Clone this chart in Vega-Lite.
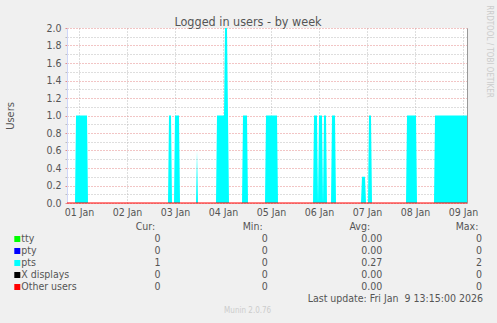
{
  "$schema": "https://vega.github.io/schema/vega-lite/v6.json",
  "autosize": "none",
  "padding": {"left": 67, "top": 28, "right": 30, "bottom": 10},
  "params": [{"name": "height", "value": 285}],
  "background": "#f0f0f0",
  "spacing": 0,
  "bounds": "flush",
  "config": {
    "font": "DejaVu Sans Condensed, DejaVu Sans",
    "view": {"stroke": null},
    "text": {"font": "DejaVu Sans Condensed, DejaVu Sans"}
  },
  "title": {"text": "Logged in users - by week", "fontSize": 12.5, "fontWeight": "normal", "color": "#555555", "anchor": "middle", "frame": "group", "baseline": "alphabetic", "offset": -34, "dx": -19},
  "datasets": {
    "legend": [
      {"series": "tty", "Cur:": "0", "Min:": "0", "Avg:": "0.00", "Max:": "0"},
      {"series": "pty", "Cur:": "0", "Min:": "0", "Avg:": "0.00", "Max:": "0"},
      {"series": "pts", "Cur:": "1", "Min:": "0", "Avg:": "0.27", "Max:": "2"},
      {"series": "X displays", "Cur:": "0", "Min:": "0", "Avg:": "0.00", "Max:": "0"},
      {"series": "Other users", "Cur:": "0", "Min:": "0", "Avg:": "0.00", "Max:": "0"}
    ]
  },
  "vconcat": [
    {
      "width": 400,
      "height": 175,
      "view": {"fill": "#ffffff", "stroke": null},
      "layer": [
        {
          "data": {"values": [
            {"t": "2026-01-01T06:00:00Z", "v": 0},
            {"t": "2026-01-01T10:00:00Z", "v": 0},
            {"t": "2026-01-01T10:30:00Z", "v": 1},
            {"t": "2026-01-01T16:00:00Z", "v": 1},
            {"t": "2026-01-01T16:30:00Z", "v": 0},
            {"t": "2026-01-03T08:30:00Z", "v": 0},
            {"t": "2026-01-03T09:00:00Z", "v": 1},
            {"t": "2026-01-03T10:00:00Z", "v": 1},
            {"t": "2026-01-03T10:30:00Z", "v": 0},
            {"t": "2026-01-03T11:30:00Z", "v": 0},
            {"t": "2026-01-03T12:00:00Z", "v": 1},
            {"t": "2026-01-03T14:00:00Z", "v": 1},
            {"t": "2026-01-03T14:30:00Z", "v": 0},
            {"t": "2026-01-03T22:30:00Z", "v": 0},
            {"t": "2026-01-03T23:00:00Z", "v": 0.6},
            {"t": "2026-01-03T23:30:00Z", "v": 0},
            {"t": "2026-01-04T08:30:00Z", "v": 0},
            {"t": "2026-01-04T09:00:00Z", "v": 1},
            {"t": "2026-01-04T12:30:00Z", "v": 1},
            {"t": "2026-01-04T13:00:00Z", "v": 2},
            {"t": "2026-01-04T14:00:00Z", "v": 2},
            {"t": "2026-01-04T14:30:00Z", "v": 1},
            {"t": "2026-01-04T15:00:00Z", "v": 0},
            {"t": "2026-01-04T21:30:00Z", "v": 0},
            {"t": "2026-01-04T22:00:00Z", "v": 1},
            {"t": "2026-01-05T00:00:00Z", "v": 1},
            {"t": "2026-01-05T00:30:00Z", "v": 0},
            {"t": "2026-01-05T09:00:00Z", "v": 0},
            {"t": "2026-01-05T09:30:00Z", "v": 1},
            {"t": "2026-01-05T15:00:00Z", "v": 1},
            {"t": "2026-01-05T15:30:00Z", "v": 0},
            {"t": "2026-01-06T09:00:00Z", "v": 0},
            {"t": "2026-01-06T09:30:00Z", "v": 1},
            {"t": "2026-01-06T11:00:00Z", "v": 1},
            {"t": "2026-01-06T11:30:00Z", "v": 0},
            {"t": "2026-01-06T12:00:00Z", "v": 1},
            {"t": "2026-01-06T13:30:00Z", "v": 1},
            {"t": "2026-01-06T14:00:00Z", "v": 0},
            {"t": "2026-01-06T14:30:00Z", "v": 1},
            {"t": "2026-01-06T15:30:00Z", "v": 1},
            {"t": "2026-01-06T16:00:00Z", "v": 0},
            {"t": "2026-01-06T18:00:00Z", "v": 0},
            {"t": "2026-01-06T18:30:00Z", "v": 1},
            {"t": "2026-01-06T20:00:00Z", "v": 1},
            {"t": "2026-01-06T20:30:00Z", "v": 0},
            {"t": "2026-01-07T09:00:00Z", "v": 0},
            {"t": "2026-01-07T09:30:00Z", "v": 0.3},
            {"t": "2026-01-07T11:00:00Z", "v": 0.3},
            {"t": "2026-01-07T11:30:00Z", "v": 0},
            {"t": "2026-01-07T12:30:00Z", "v": 0},
            {"t": "2026-01-07T13:00:00Z", "v": 1},
            {"t": "2026-01-07T14:00:00Z", "v": 1},
            {"t": "2026-01-07T14:30:00Z", "v": 0},
            {"t": "2026-01-08T07:30:00Z", "v": 0},
            {"t": "2026-01-08T08:00:00Z", "v": 1},
            {"t": "2026-01-08T12:30:00Z", "v": 1},
            {"t": "2026-01-08T13:00:00Z", "v": 0},
            {"t": "2026-01-08T21:30:00Z", "v": 0},
            {"t": "2026-01-08T22:00:00Z", "v": 1},
            {"t": "2026-01-09T14:00:00Z", "v": 1}
          ]},
          "mark": {"type": "area", "color": "#00ffff", "interpolate": "linear", "opacity": 1},
          "encoding": {
            "x": {
              "field": "t", "type": "temporal",
              "scale": {"type": "utc", "domain": [1767247200000, 1767967200000], "nice": false},
              "axis": {
                "title": null,
                "values": [1767268800000, 1767290400000, 1767312000000, 1767333600000, 1767355200000, 1767376800000, 1767398400000, 1767420000000, 1767441600000, 1767463200000, 1767484800000, 1767506400000, 1767528000000, 1767549600000, 1767571200000, 1767592800000, 1767614400000, 1767636000000, 1767657600000, 1767679200000, 1767700800000, 1767722400000, 1767744000000, 1767765600000, 1767787200000, 1767808800000, 1767830400000, 1767852000000, 1767873600000, 1767895200000, 1767916800000, 1767938400000, 1767960000000],
                "labelExpr": "utchours(datum.value) == 12 ? utcFormat(datum.value, '%d %b') : ''",
                "labelOverlap": false,
                "labelBound": false,
                "labelFlush": false,
                "labelColor": "#555555",
                "labelFontSize": 10.5,
                "labelPadding": 1,
                "domain": false,
                "grid": true,
                "gridDash": [1, 2],
                "gridColor": {"condition": {"test": "utchours(datum.value) == 0", "value": "#e48a8a"}, "value": "#bdbdbd"},
                "ticks": true,
                "tickSize": 3,
                "tickColor": {"condition": {"test": "utchours(datum.value) == 0", "value": "#e48a8a"}, "value": "transparent"}
              }
            },
            "y": {
              "field": "v", "type": "quantitative",
              "scale": {"domain": [0, 2], "nice": false, "zero": true},
              "axis": {
                "orient": "left",
                "title": "Users",
                "titleColor": "#555555",
                "titleFontSize": 11,
                "titleFontWeight": "normal",
                "titleX": -57,
                "titleY": 87.5,
                "titleAlign": "center",
                "titleBaseline": "middle",
                "values": [0, 0.1, 0.2, 0.3, 0.4, 0.5, 0.6, 0.7, 0.8, 0.9, 1.0, 1.1, 1.2, 1.3, 1.4, 1.5, 1.6, 1.7, 1.8, 1.9, 2.0],
                "labelExpr": "round(datum.value*10) % 2 == 0 ? format(datum.value, '.1f') : ''",
                "labelColor": "#555555",
                "labelFontSize": 10.5,
                "labelPadding": 4,
                "labelOverlap": false,
                "labelBound": false,
                "labelFlush": false,
                "domain": true,
                "domainColor": "#cfd6f8",
                "grid": true,
                "gridDash": [1, 2],
                "gridColor": {"condition": {"test": "round(datum.value*10) % 2 == 0", "value": "#e48a8a"}, "value": "#bdbdbd"},
                "tickSize": 2,
                "tickColor": {"condition": {"test": "round(datum.value*10) % 2 == 0", "value": "#e48a8a"}, "value": "#bdbdbd"}
              }
            }
          }
        },
        {
          "data": {"values": [
            {"t": "2026-01-01T06:00:00Z", "v": 0},
            {"t": "2026-01-09T14:00:00Z", "v": 0}
          ]},
          "mark": {"type": "line", "color": "#ff0000", "strokeWidth": 1, "interpolate": "linear"},
          "encoding": {
            "x": {"field": "t", "type": "temporal", "scale": {"type": "utc", "domain": [1767247200000, 1767967200000], "nice": false}},
            "y": {
              "field": "v", "type": "quantitative",
              "scale": {"domain": [0, 2], "nice": false},
              "axis": {
                "orient": "right",
                "domainColor": "#999999",
                "labels": false,
                "ticks": false,
                "grid": false,
                "title": "RRDTOOL / TOBI OETIKER",
                "titleColor": "#cccccc",
                "titleFontSize": 8,
                "titleFontWeight": "normal",
                "titleAngle": 90,
                "titleX": 21,
                "titleY": 23,
                "titleAlign": "center",
                "titleBaseline": "middle"
              }
            }
          }
        }
      ],
      "resolve": {"axis": {"y": "independent"}}
    },
    {
      "width": 400,
      "height": 110,
      "view": {"fill": null, "stroke": null},
      "layer": [
        {
          "data": {"name": "legend"},
          "mark": {"type": "point", "shape": "M-8,-1H-6V1H-8Z", "size": 36, "filled": true, "opacity": 1},
          "encoding": {
            "x": {"datum": "label", "type": "nominal", "scale": {"type": "point", "domain": ["label", "Cur:", "Min:", "Avg:", "Max:"], "range": [-28.7, 400], "padding": 0}, "axis": null},
            "y": {"field": "series", "type": "nominal", "scale": {"type": "point", "domain": ["head", "tty", "pty", "pts", "X displays", "Other users", "update", "munin"], "range": [24, 108], "padding": 0}, "axis": null},
            "color": {"field": "series", "type": "nominal", "scale": {"domain": ["tty", "pty", "pts", "X displays", "Other users"], "range": ["#00ff00", "#0000ff", "#00ffff", "#000000", "#ff0000"]}, "legend": null}
          }
        },
        {
          "data": {"name": "legend"},
          "mark": {"type": "text", "align": "left", "baseline": "middle", "dx": -17, "fontSize": 10.5, "color": "#555555"},
          "encoding": {
            "x": {"datum": "label", "type": "nominal"},
            "y": {"field": "series", "type": "nominal"},
            "text": {"field": "series"}
          }
        },
        {
          "data": {"name": "legend"},
          "transform": [{"fold": ["Cur:", "Min:", "Avg:", "Max:"], "as": ["col", "val"]}],
          "mark": {"type": "text", "align": "center", "baseline": "middle", "dx": 12, "fontSize": 10.5, "color": "#555555"},
          "encoding": {
            "x": {"field": "col", "type": "nominal"},
            "y": {"field": "series", "type": "nominal"},
            "text": {"field": "val"}
          }
        },
        {
          "data": {"values": [{"col": "Cur:"}, {"col": "Min:"}, {"col": "Avg:"}, {"col": "Max:"}]},
          "mark": {"type": "text", "align": "center", "baseline": "middle", "fontSize": 10.5, "color": "#555555"},
          "encoding": {
            "x": {"field": "col", "type": "nominal"},
            "y": {"datum": "head", "type": "nominal"},
            "text": {"field": "col"}
          }
        },
        {
          "data": {"values": [{"text": "Last update: Fri Jan \u00a09 13:15:00 2026"}]},
          "mark": {"type": "text", "align": "right", "baseline": "middle", "dx": 16, "fontSize": 10.5, "color": "#555555"},
          "encoding": {
            "x": {"datum": "Max:", "type": "nominal"},
            "y": {"datum": "update", "type": "nominal"},
            "text": {"field": "text"}
          }
        },
        {
          "data": {"values": [{"text": "Munin 2.0.76"}]},
          "mark": {"type": "text", "align": "center", "baseline": "middle", "dx": -5, "fontSize": 8, "color": "#cccccc"},
          "encoding": {
            "x": {"datum": "Min:", "type": "nominal"},
            "y": {"datum": "munin", "type": "nominal"},
            "text": {"field": "text"}
          }
        }
      ]
    }
  ]
}
